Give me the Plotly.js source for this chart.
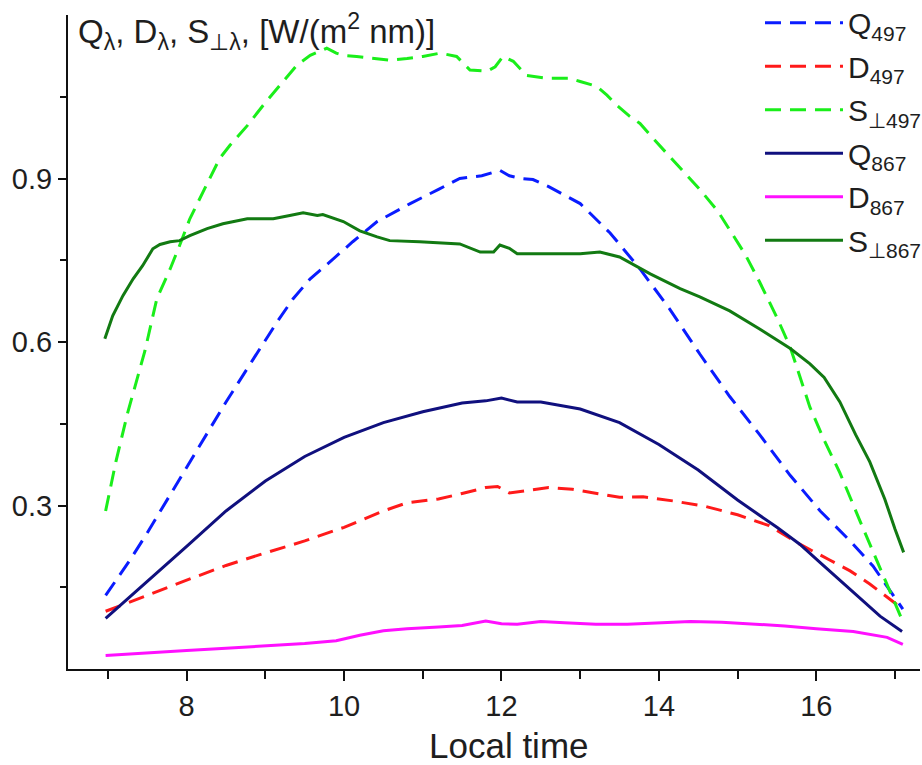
<!DOCTYPE html>
<html>
<head>
<meta charset="utf-8">
<script src="https://cdn.plot.ly/plotly-3.0.1.min.js"></script>
<style>html,body{margin:0;padding:0;background:#fff;}#chart{width:922px;height:765px;}</style>
</head>
<body>
<div id="chart"></div>
<script>
// ---- data ----
const tS497 = [6.97,7.1,7.25,7.47,7.62,7.79,7.91,8.04,8.21,8.42,8.55,8.77,8.97,9.19,9.40,9.57,9.78,9.9,9.99,10.16,10.37,10.58,10.8,11.0,11.22,11.43,11.6,11.82,11.92,12.02,12.15,12.32,12.58,12.87,13.0,13.21,13.34,13.47,13.63,13.76,13.93,14.2,14.52,14.75,14.97,15.1,15.28,15.5,15.67,15.92,16.1,16.3,16.56,16.77,16.95,17.1];
const vS497 = [0.29,0.38,0.47,0.584,0.679,0.734,0.777,0.826,0.876,0.937,0.961,0.997,1.034,1.071,1.108,1.126,1.139,1.13,1.126,1.124,1.12,1.117,1.12,1.124,1.13,1.124,1.099,1.097,1.105,1.124,1.115,1.089,1.084,1.084,1.078,1.069,1.053,1.034,1.014,1.001,0.973,0.93,0.88,0.84,0.79,0.76,0.71,0.645,0.59,0.48,0.42,0.36,0.27,0.2,0.14,0.087];

const tQ497 = [6.97,7.28,7.5,8.0,8.5,8.87,9.15,9.35,9.57,9.82,10.11,10.42,10.84,11.2,11.47,11.75,11.98,12.1,12.25,12.4,12.6,13.0,13.38,13.76,14.14,14.52,14.9,15.28,15.67,16.05,16.43,16.72,17.04,17.1];
const vQ497 = [0.135,0.2,0.25,0.37,0.49,0.574,0.637,0.679,0.716,0.747,0.784,0.821,0.854,0.88,0.9,0.905,0.915,0.905,0.9,0.898,0.885,0.854,0.8,0.734,0.66,0.578,0.5,0.43,0.355,0.29,0.235,0.189,0.122,0.11];

const tD497 = [6.97,7.2,7.5,8.0,8.5,9.0,9.5,10.0,10.5,10.8,11.2,11.5,11.8,11.95,12.1,12.3,12.6,12.9,13.2,13.5,13.8,14.2,14.6,15.0,15.4,15.79,16.17,16.43,16.68,16.85,16.97,17.1];
const vD497 = [0.106,0.118,0.135,0.163,0.19,0.213,0.235,0.26,0.29,0.305,0.312,0.322,0.333,0.335,0.323,0.327,0.333,0.33,0.322,0.315,0.316,0.308,0.298,0.283,0.263,0.229,0.2,0.18,0.156,0.137,0.124,0.11];

const tQ867 = [6.97,7.5,8.0,8.5,9.0,9.5,10.0,10.5,11.0,11.5,11.8,12.0,12.2,12.5,13.0,13.5,14.0,14.5,15.0,15.5,15.79,16.05,16.47,16.81,17.09];
const vQ867 = [0.093,0.16,0.225,0.29,0.345,0.39,0.425,0.452,0.472,0.488,0.492,0.497,0.49,0.49,0.477,0.452,0.412,0.365,0.31,0.26,0.229,0.195,0.14,0.097,0.069];

const tD867 = [6.97,7.5,8.0,8.5,9.0,9.5,9.9,10.2,10.5,10.8,11.2,11.5,11.8,12.0,12.2,12.5,12.8,13.2,13.6,14.0,14.4,14.8,15.2,15.6,16.0,16.47,16.9,17.1];
const vD867 = [0.025,0.03,0.034,0.038,0.042,0.047,0.052,0.062,0.07,0.074,0.077,0.08,0.088,0.083,0.082,0.087,0.085,0.082,0.082,0.084,0.087,0.086,0.083,0.079,0.074,0.069,0.058,0.045];

const tS867 = [6.96,7.06,7.19,7.32,7.44,7.57,7.66,7.79,7.91,8.04,8.26,8.46,8.77,9.1,9.31,9.48,9.66,9.73,9.99,10.2,10.42,10.58,10.96,11.47,11.73,11.9,11.98,12.1,12.2,12.49,13.0,13.25,13.5,13.89,14.27,14.52,14.9,15.28,15.67,15.92,16.1,16.3,16.5,16.68,16.87,17.0,17.11];
const vS867 = [0.606,0.648,0.685,0.716,0.74,0.771,0.779,0.784,0.786,0.795,0.808,0.817,0.826,0.826,0.832,0.837,0.832,0.834,0.821,0.804,0.793,0.786,0.784,0.78,0.765,0.765,0.778,0.772,0.762,0.762,0.762,0.765,0.756,0.725,0.698,0.683,0.657,0.624,0.588,0.56,0.535,0.49,0.43,0.38,0.312,0.257,0.214];

const xMajorTicks = [8,10,12,14,16];
const xMinorTicks = [7,9,11,13,15,17];
const yMajorTicks = [0.3,0.6,0.9];
const yMajorLabels = ['0.3','0.6','0.9'];
const yMinorTicks = [0.15,0.45,0.75,1.05];

const names = ['Q<sub>497</sub>','D<sub>497</sub>','S<sub>⊥497</sub>','Q<sub>867</sub>','D<sub>867</sub>','S<sub>⊥867</sub>'];
const xTitle = 'Local time';
const yTitle = 'Q<sub>λ</sub>, D<sub>λ</sub>, S<sub>⊥λ</sub>, [W/(m<sup>2</sup> nm)]';

// ---- styles ----
const FONT = 'Liberation Sans, Arial, sans-serif';
const TXT = '#1e1e1e';
function tr(x, y, name, color, dash, grp) {
  return {x: x, y: y, name: name, type: 'scatter', mode: 'lines', legendgroup: grp,
          line: {color: color, width: 3, dash: dash}, hoverinfo: 'skip'};
}
const dashed = '16px,9px';
const data = [
  tr(tQ497, vQ497, names[0], '#0a1cff', dashed, 'g1'),
  tr(tD497, vD497, names[1], '#ff1a1a', dashed, 'g2'),
  tr(tS497, vS497, names[2], '#1aee1a', dashed, 'g3'),
  tr(tQ867, vQ867, names[3], '#10107e', 'solid', 'g4'),
  tr(tD867, vD867, names[4], '#ff10ff', 'solid', 'g5'),
  tr(tS867, vS867, names[5], '#127a12', 'solid', 'g6')
];

const layout = {
  width: 922, height: 765,
  margin: {l: 68, r: 2, t: 15, b: 96, autoexpand: false},
  paper_bgcolor: '#fff', plot_bgcolor: '#fff',
  font: {family: FONT, color: TXT},
  showlegend: true,
  legend: {x: 0.8122, xanchor: 'left', y: 1.028, yanchor: 'top',
           font: {size: 30, family: FONT, color: TXT}, itemwidth: 78,
           tracegroupgap: 1.5,
           bgcolor: 'rgba(0,0,0,0)', borderwidth: 0},
  xaxis: {range: [6.492, 17.318], showline: true, linecolor: '#111', linewidth: 2,
          showgrid: false, zeroline: false, ticks: 'outside', ticklen: 10, tickwidth: 2,
          tickcolor: '#111', tickmode: 'array', tickvals: xMajorTicks,
          tickfont: {size: 29, family: FONT, color: TXT},
          minor: {tickmode: 'array', tickvals: xMinorTicks, ticks: 'outside', ticklen: 8, tickwidth: 2, tickcolor: '#111'}},
  yaxis: {range: [0, 1.2], showline: true, linecolor: '#111', linewidth: 2,
          showgrid: false, zeroline: false, ticks: 'outside', ticklen: 8, tickwidth: 2,
          tickcolor: '#111', tickmode: 'array', tickvals: yMajorTicks, ticktext: yMajorLabels,
          tickfont: {size: 29, family: FONT, color: TXT},
          minor: {tickmode: 'array', tickvals: yMinorTicks, ticks: 'outside', ticklen: 6, tickwidth: 2, tickcolor: '#111'}},
  annotations: [{
    text: yTitle,
    xref: 'paper', yref: 'paper', x: 0.009, y: 1.014, xanchor: 'left', yanchor: 'top',
    showarrow: false, font: {size: 33, family: FONT, color: TXT}
  }, {
    text: xTitle,
    xref: 'paper', yref: 'paper', x: 0.5176, y: -0.1167, xanchor: 'center', yanchor: 'middle',
    showarrow: false, font: {size: 35, family: FONT, color: TXT}
  }]
};

Plotly.newPlot('chart', data, layout, {staticPlot: true, displayModeBar: false});
</script>
</body>
</html>
